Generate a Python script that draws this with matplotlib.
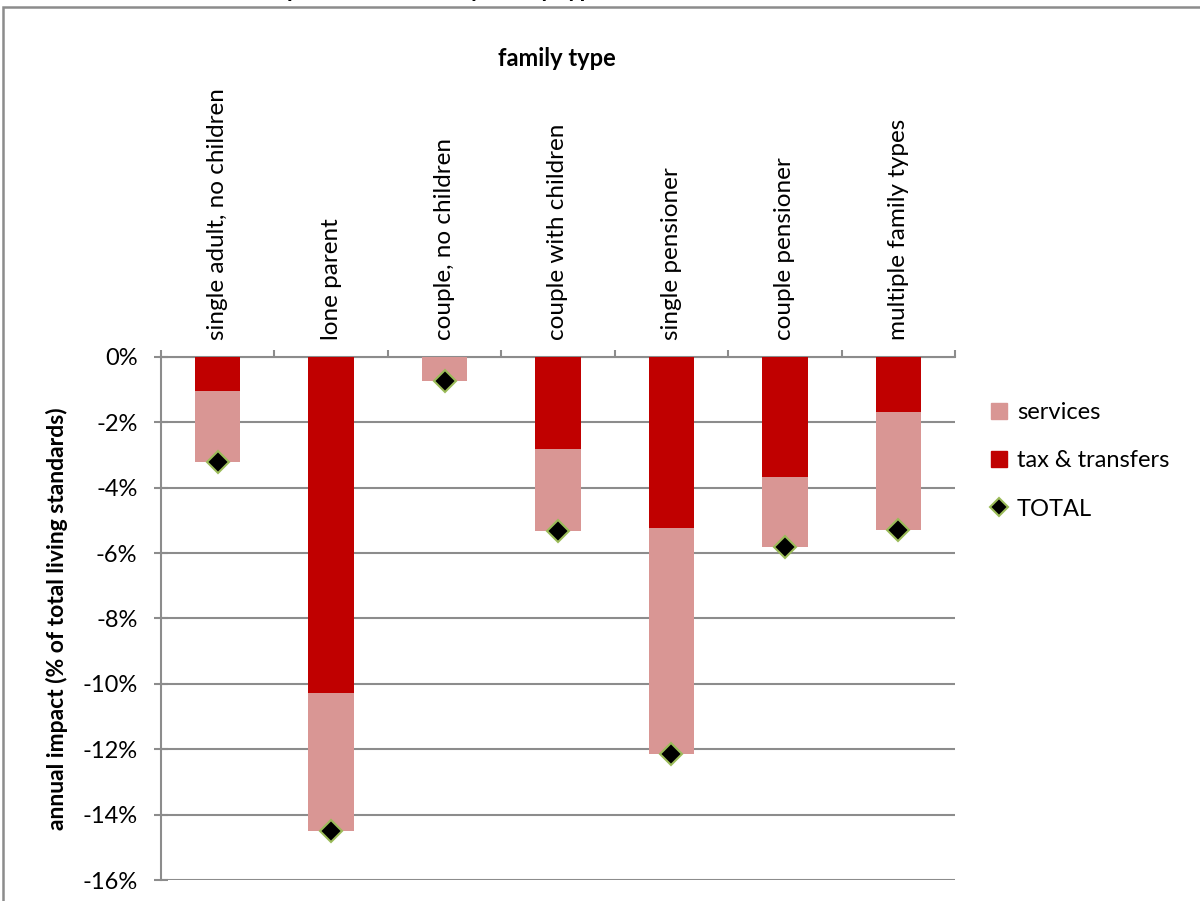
import matplotlib.pyplot as plt
from matplotlib.lines import Line2D
from matplotlib.patches import Patch, Rectangle
import numpy as np

plt.rcParams['font.family'] = ['Lato', 'DejaVu Sans']

categories = ['single adult, no children', 'lone parent', 'couple, no children',
              'couple with children', 'single pensioner', 'couple pensioner',
              'multiple family types']
tax_transfers = [-1.04, -10.29, 0.0, -2.80, -5.24, -3.67, -1.68]
services = [-2.18, -4.21, -0.72, -2.51, -6.91, -2.14, -3.61]
total = [-3.22, -14.50, -0.72, -5.31, -12.15, -5.81, -5.29]
yticks = [0, -2, -4, -6, -8, -10, -12, -14, -16]

c_services = '#D99694'
c_tax = '#C00000'
c_grid = '#8C8C8C'

fig = plt.figure(figsize=(12, 9.01), dpi=100)
ax = fig.add_axes([0.1342, 0.0233, 0.6616, 0.5805])

x = np.arange(len(categories))
ax.bar(x, tax_transfers, width=0.4, color=c_tax, zorder=3)
ax.bar(x, services, width=0.4, bottom=tax_transfers, color=c_services, zorder=3)
ax.plot(x, total, linestyle='none', marker='D', markersize=11,
        markerfacecolor='black', markeredgecolor='#9BBB59', markeredgewidth=1.5,
        zorder=4, clip_on=False)

ax.set_xlim(-0.5, len(categories) - 0.5)
ax.set_ylim(-16, 0)

# horizontal gridlines
ax.set_yticks(yticks)
ax.set_yticklabels([f'{v}%' for v in yticks], fontsize=17)
ax.yaxis.grid(True, color=c_grid, linewidth=1.5, zorder=0)
ax.tick_params(axis='y', direction='inout', length=10, width=1.5, color=c_grid, pad=12)

# category labels along the top
ax.xaxis.tick_top()
ax.set_xticks(x)
ax.set_xticklabels(categories, rotation=90, fontsize=17.5)
ax.tick_params(axis='x', which='major', length=0, pad=12)
ax.set_xticks(np.arange(len(categories) + 1) - 0.5, minor=True)
ax.tick_params(axis='x', which='minor', direction='out', length=5, width=1.5,
               color=c_grid, top=True, bottom=False)

for side in ['right', 'bottom']:
    ax.spines[side].set_visible(False)
for side in ['left', 'top']:
    ax.spines[side].set_color(c_grid)
    ax.spines[side].set_linewidth(1.5)

ax.set_ylabel('annual impact (% of total living standards)', fontsize=16.5,
              fontweight='bold', labelpad=10)
fig.text(0.464, 1 - 58 / 901, 'family type', ha='center', va='center',
         fontsize=17, fontweight='bold')

# chart title, cut off by the top edge
fig.text(0.505, 1 + 3 / 901, 'Annual impact of the cuts by family type',
         ha='right', va='baseline', fontsize=17, fontweight='bold')

# outer chart frame
fig.patches.append(Rectangle((3 / 1200, -0.05), 1.2, 1.05 - 7 / 901,
                             transform=fig.transFigure, fill=False,
                             edgecolor='#8C8C8C', linewidth=1.8))

handles = [Patch(color=c_services, label='services'),
           Patch(color=c_tax, label='tax & transfers'),
           Line2D([], [], linestyle='none', marker='D', markersize=9,
                  markerfacecolor='black', markeredgecolor='#9BBB59',
                  markeredgewidth=1.5, label='TOTAL')]
fig.legend(handles=handles, loc='upper left', bbox_to_anchor=(0.808, 1 - 381 / 901),
           frameon=False, fontsize=17, labelspacing=1.15, handlelength=0.7,
           handleheight=0.7, handletextpad=0.4)

fig.savefig('out.png', dpi=100)
